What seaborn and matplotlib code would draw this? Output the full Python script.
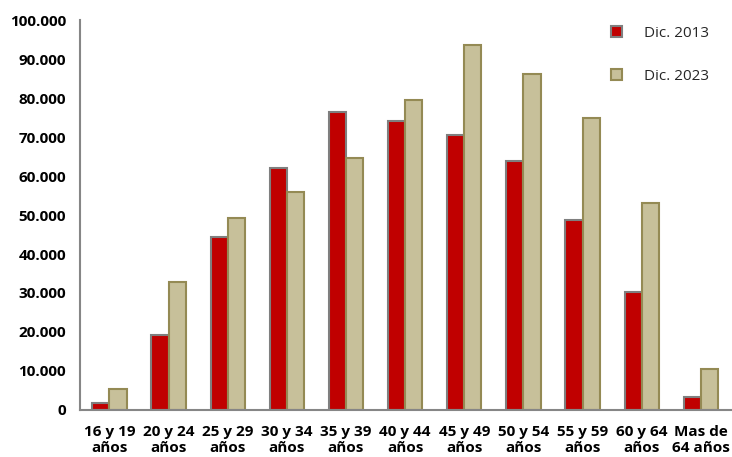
import numpy as np
import pandas as pd
import seaborn as sns
import matplotlib.pyplot as plt
from matplotlib.patches import Patch
from matplotlib.ticker import FuncFormatter

grupos = ['16 y 19\naños', '20 y 24\naños', '25 y 29\naños', '30 y 34\naños',
          '35 y 39\naños', '40 y 44\naños', '45 y 49\naños', '50 y 54\naños',
          '55 y 59\naños', '60 y 64\naños', 'Mas de\n64 años']
dic_2013 = [1700, 19300, 44400, 62100, 76400, 74200, 70500, 63800, 48700, 30300, 3300]
dic_2023 = [5400, 32700, 49300, 55900, 64600, 79600, 93600, 86200, 74900, 53100, 10600]
series = ['Dic. 2013', 'Dic. 2023']

df = pd.DataFrame({
    'grupo': grupos * 2,
    'valor': dic_2013 + dic_2023,
    'serie': [series[0]] * len(grupos) + [series[1]] * len(grupos),
})

colores = {'Dic. 2013': '#C00000', 'Dic. 2023': '#C7C09A'}
bordes = {'Dic. 2013': '#7F7F7F', 'Dic. 2023': '#948A54'}

sns.set_style('white')
plt.rcParams['font.family'] = ['Open Sans', 'DejaVu Sans']

fig = plt.figure(figsize=(7.32, 4.57), dpi=100)
ax = fig.add_axes([0.109, 0.103, 0.889, 0.853])

sns.barplot(data=df, x='grupo', y='valor', hue='serie', palette=colores,
            saturation=1, width=0.58, linewidth=1.5, ax=ax, legend=False)
for cont, s in zip(ax.containers, series):
    for bar in cont:
        bar.set_edgecolor(bordes[s])

ax.set_ylim(0, 100000)
ax.set_xlim(-0.5, len(grupos) - 0.5)
ax.set_yticks(np.arange(0, 100001, 10000))
ax.yaxis.set_major_formatter(FuncFormatter(lambda v, p: f'{int(v):,}'.replace(',', '.')))
ax.set_xlabel('')
ax.set_ylabel('')

# ticks on category boundaries
ax.set_xticks(np.arange(-0.5, len(grupos), 1), minor=True)
ax.tick_params(axis='x', which='major', length=0, pad=11)
ax.tick_params(axis='x', which='minor', length=5, width=1.2, color='#868686', direction='out')
ax.tick_params(axis='y', length=5, width=1.2, color='#868686', direction='out', pad=5)
for lab in ax.get_xticklabels() + ax.get_yticklabels():
    lab.set_fontweight('bold')
    lab.set_fontsize(11)
    lab.set_color('#000000')
for lab in ax.get_xticklabels():
    lab.set_linespacing(1.2)

sns.despine(ax=ax)
for sp in ['left', 'bottom']:
    ax.spines[sp].set_color('#868686')
    ax.spines[sp].set_linewidth(1.5)

handles = [Patch(facecolor=colores[s], edgecolor=bordes[s], linewidth=1.5, label=s) for s in series]
ax.legend(handles=handles, frameon=False, loc='upper left', bbox_to_anchor=(0.795, 1.02),
          labelspacing=1.8, handlelength=0.7, handleheight=0.7, handletextpad=1.5,
          fontsize=11)

fig.savefig('out.png', dpi=100)
